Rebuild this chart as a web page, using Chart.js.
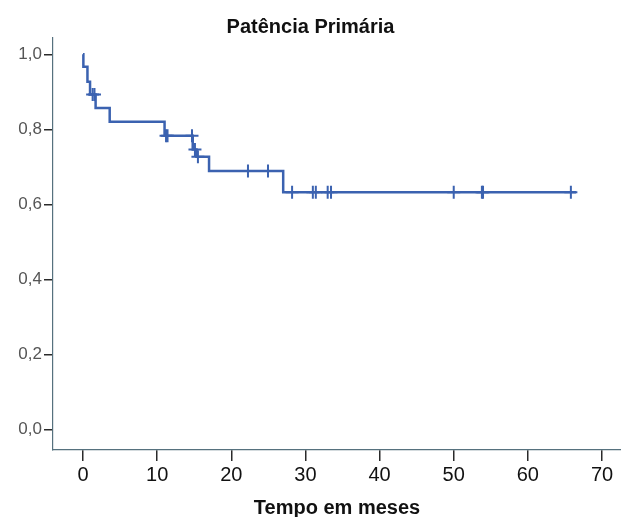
<!DOCTYPE html>
<html><head><meta charset="utf-8">
<script src="https://cdn.jsdelivr.net/npm/chart.js@4/dist/chart.umd.min.js"></script>
<style>html,body{margin:0;padding:0;background:#fff}</style>
</head><body>
<canvas id="c" width="621" height="517"></canvas>
<script>
const chartTitle = 'Patência Primária';
const xAxisTitle = 'Tempo em meses';
const xTickValues = [0, 10, 20, 30, 40, 50, 60, 70];
const yTickValues = [0, 0.2, 0.4, 0.6, 0.8, 1.0];
// Kaplan-Meier steps: time (months) at which survival drops to value
const stepTimes    = [0,   0.05,  0.6,   0.95,  1.7,   3.6,  11.0,  14.8,  15.3,  17.0,  27.0,  66.5];
const stepSurvival = [1.0, 0.967, 0.927, 0.893, 0.857, 0.82, 0.783, 0.746, 0.727, 0.689, 0.632, 0.632];
// censored observations
const censorTimes    = [1.3,   1.55,  11.2,  11.4,  14.7,  15.1,  15.5,  22.25, 24.95, 28.2,  31.0,  31.4,  33.0,  33.45, 50.0,  53.8,  53.95, 65.8];
const censorSurvival = [0.893, 0.893, 0.783, 0.783, 0.783, 0.746, 0.727, 0.689, 0.689, 0.632, 0.632, 0.632, 0.632, 0.632, 0.632, 0.632, 0.632, 0.632];

const lineColor = '#3b62b0';
const stepData = stepTimes.map((t, i) => ({x: t, y: stepSurvival[i]}));
const censorData = censorTimes.map((t, i) => ({x: t, y: censorSurvival[i]}));

new Chart(document.getElementById('c'), {
  type: 'line',
  data: {
    datasets: [
      {data: stepData, stepped: 'before', borderColor: lineColor, borderWidth: 2.5, pointRadius: 0, fill: false},
      {data: censorData, showLine: false, pointStyle: 'cross', pointRadius: 6.5, pointBorderWidth: 2, borderColor: lineColor, backgroundColor: lineColor}
    ]
  },
  options: {
    responsive: false,
    animation: false,
    devicePixelRatio: 1,
    layout: {padding: 0, autoPadding: false},
    plugins: {
      legend: {display: false},
      tooltip: {enabled: false},
      title: {
        display: true, text: chartTitle, color: '#111',
        font: {family: '"Liberation Sans", Arial, sans-serif', size: 20, weight: 'bold', lineHeight: 1},
        padding: {top: 17, bottom: 1}
      }
    },
    scales: {
      x: {
        type: 'linear', min: -4.046, max: 72.56,
        afterBuildTicks: s => { s.ticks = xTickValues.map(v => ({value: v})); },
        afterFit: s => { s.height = 67; s.paddingLeft = 0; s.paddingRight = 0; },
        grid: {drawOnChartArea: false, drawTicks: true, tickLength: 11, tickColor: '#2a2a2a', lineWidth: 1.5},
        border: {color: '#56717e', width: 1.2},
        ticks: {color: '#111', padding: 2, maxRotation: 0, autoSkip: false,
          font: {family: '"Liberation Sans", Arial, sans-serif', size: 20}},
        title: {display: true, text: xAxisTitle, color: '#111',
          font: {family: '"Liberation Sans", Arial, sans-serif', size: 20, weight: 'bold', lineHeight: 0.9},
          padding: {top: 0, bottom: 0}}
      },
      y: {
        type: 'linear', min: -0.055, max: 1.0435,
        afterBuildTicks: s => { s.ticks = yTickValues.map(v => ({value: v})); },
        afterFit: s => { s.width = 53; s.paddingTop = 0; s.paddingBottom = 0; },
        grid: {drawOnChartArea: false, drawTicks: true, tickLength: 9, tickColor: '#2a2a2a', lineWidth: 1.5},
        border: {color: '#56717e', width: 1.2},
        ticks: {color: '#555', padding: 2, autoSkip: false,
          font: {family: '"Liberation Sans", Arial, sans-serif', size: 17},
          callback: v => v.toFixed(1).replace('.', ',')}
      }
    }
  }
});
</script>
</body></html>
